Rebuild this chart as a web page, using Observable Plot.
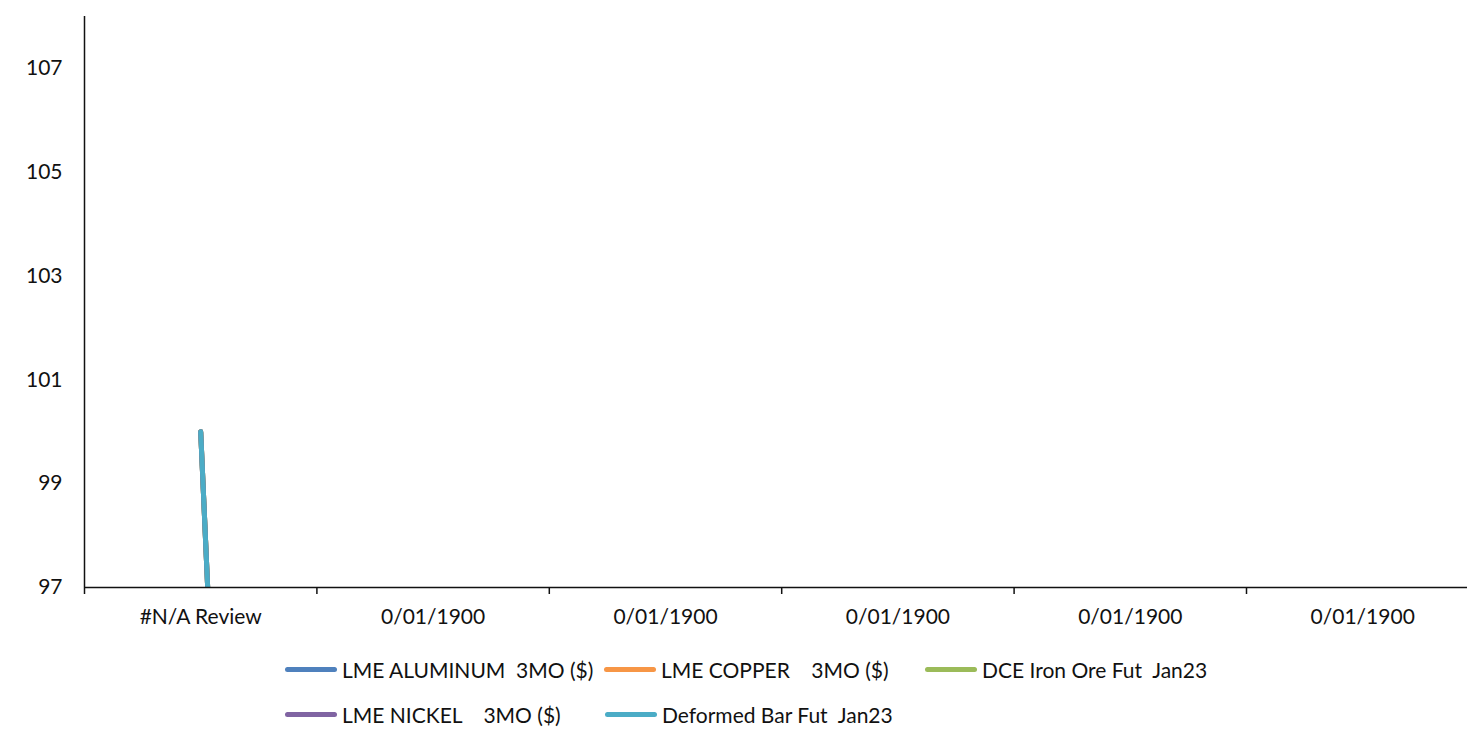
<!DOCTYPE html>
<html>
<head>
<meta charset="utf-8">
<script src="https://cdn.jsdelivr.net/npm/d3@7"></script>
<script src="https://cdn.jsdelivr.net/npm/@observablehq/plot@0.6"></script>
<style>
  html, body { margin: 0; padding: 0; background: #fff; overflow: hidden; }
  body { width: 1467px; height: 734px; font-family: Lato, "Open Sans", sans-serif; }
  #chart svg { overflow: visible; }
  #legend { position: relative; height: 94px; font-size: 21px; color: #111; }
  .item { position: absolute; display: flex; align-items: center; white-space: pre; }
  .sw { width: 52px; height: 5px; border-radius: 2.5px; margin-right: 5px; }
</style>
</head>
<body>
<div id="chart"></div>
<div id="legend"></div>
<script>
const categories = ["#N/A Review", "0/01/1900", "0/01/1900", "0/01/1900", "0/01/1900", "0/01/1900"];
const seriesNames = ["LME ALUMINUM  3MO ($)", "LME COPPER    3MO ($)", "DCE Iron Ore Fut  Jan23", "LME NICKEL    3MO ($)", "Deformed Bar Fut  Jan23"];
const seriesColors = ["#4F81BD", "#F79646", "#9BBB59", "#8064A2", "#4BACC6"];
const aluminum = [100, 0, 0, 0, 0, 0];
const copper = [100, 0, 0, 0, 0, 0];
const ironOre = [100, 0, 0, 0, 0, 0];
const nickel = [100, 0, 0, 0, 0, 0];
const deformedBar = [100, 0, 0, 0, 0, 0];
const yTicks = [97, 99, 101, 103, 105, 107];

const seriesValues = [aluminum, copper, ironOre, nickel, deformedBar];
const rows = [];
seriesValues.forEach((vals, s) => vals.forEach((v, i) => rows.push({series: seriesNames[s], i: i + 0.5, v})));

const band = 232.4;
const x0 = 84;
const chart = Plot.plot({
  width: 1467,
  height: 640,
  marginTop: 16,
  marginBottom: 53,
  marginLeft: x0,
  marginRight: 0,
  style: {fontFamily: "Lato, 'Open Sans', sans-serif", fontSize: "21px", color: "#111", background: "#fff"},
  x: {type: "linear", domain: [0, categories.length], range: [x0, x0 + band * categories.length]},
  y: {domain: [97, 108]},
  color: {domain: seriesNames, range: seriesColors},
  marks: [
    Plot.line(rows, {x: "i", y: "v", z: "series", stroke: "series", strokeWidth: 5, strokeLinecap: "round", strokeLinejoin: "round", clip: true}),
    Plot.ruleX([0], {y1: 97, y2: 108, stroke: "#111", strokeWidth: 1.5}),
    Plot.ruleY([97], {stroke: "#111", strokeWidth: 1.5}),
    Plot.axisY({ticks: yTicks, tickSize: 0, tickPadding: 22, label: null, fontSize: 21}),
    Plot.axisX({ticks: d3.range(0, categories.length + 1), tickSize: 7, tickFormat: () => "", label: null, stroke: "#111", strokeWidth: 1.5}),
    Plot.axisX({ticks: d3.range(categories.length).map(i => i + 0.5), tickSize: 0, tickPadding: 22, tickFormat: (d) => categories[Math.floor(d)], label: null, fontSize: 21})
  ]
});
document.getElementById("chart").appendChild(chart);

const legendPos = [[285, 31], [604, 31], [925, 31], [285, 76], [605, 76]];
const legend = document.getElementById("legend");
seriesNames.forEach((name, k) => {
  const it = document.createElement("div");
  it.className = "item";
  it.style.left = legendPos[k][0] + "px";
  it.style.top = (legendPos[k][1] - 14) + "px";
  const sw = document.createElement("div");
  sw.className = "sw";
  sw.style.background = seriesColors[k];
  const t = document.createElement("span");
  t.textContent = name;
  it.appendChild(sw);
  it.appendChild(t);
  legend.appendChild(it);
});
</script>
</body>
</html>
